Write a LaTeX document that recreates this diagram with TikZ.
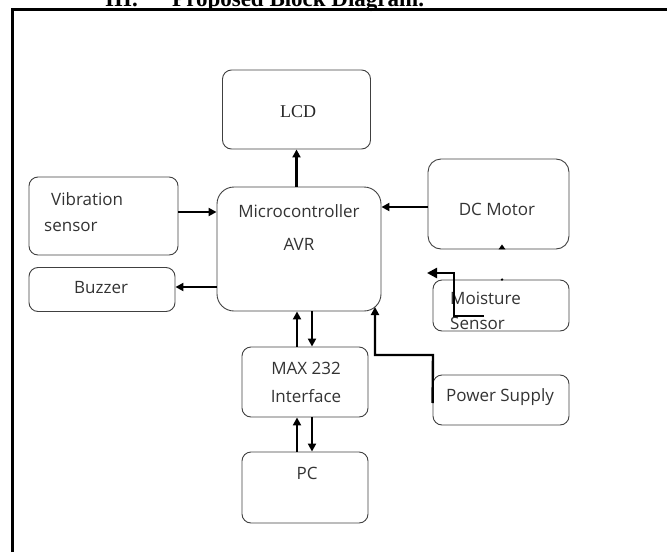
\documentclass[tikz,border=0pt]{standalone}
\usepackage{fontspec}
\setmainfont{Open Sans}
\newfontfamily\serifx{Liberation Serif}
\usetikzlibrary{arrows.meta}
\begin{document}
\begin{tikzpicture}[x=1pt,y=-1pt,
  blk/.style={draw=black!75,line width=0.9pt,rounded corners=9pt,inner sep=0pt},
  txt/.style={font=\fontsize{17}{20}\selectfont,text=black!80,inner sep=0pt,anchor=west},
  conn/.style={line width=2.4pt,-{Triangle[length=8pt,width=8pt]}},
  ttl/.style={font=\serifx\bfseries\fontsize{23}{26}\selectfont,anchor=base west,inner sep=0pt}]
\useasboundingbox (0,0) rectangle (667,552);
\clip (0,0) rectangle (667,552);
% title (cut off at the top)
\node[ttl] (t1) at (105,6) {III.};
\node[ttl] (t2) at (172,6) {Proposed Block Diagram.};
% frame
\draw[line width=3pt] (12.5,552) -- (12.5,9.5) -- (667,9.5);
% boxes
\node[blk,minimum width=148pt,minimum height=79pt] (lcd) at (296.5,109.5) {};
\node[blk,rounded corners=17pt,minimum width=164pt,minimum height=124pt] (mcu) at (299,249) {};
\node[blk,minimum width=149pt,minimum height=78pt] (vib) at (103.5,216) {};
\node[blk,minimum width=146pt,minimum height=44pt] (buz) at (102,289.5) {};
\node[blk,rounded corners=13pt,minimum width=141pt,minimum height=90pt] (dc) at (498.5,204) {};
\node[blk,minimum width=136pt,minimum height=51pt] (moist) at (501,305.5) {};
\node[blk,minimum width=126pt,minimum height=70pt] (max) at (305,382) {};
\node[blk,minimum width=136pt,minimum height=50pt] (pwr) at (501,400) {};
\node[blk,minimum width=126pt,minimum height=71pt] (pc) at (305,487.5) {};
% texts
\node[font=\serifx\fontsize{18}{20}\selectfont,inner sep=0pt,text=black!85] (lcdt) at (298,112) {LCD};
\node[txt,anchor=center] (mcut1) at (299,211) {Microcontroller};
\node[txt,anchor=center] (mcut2) at (299,244) {AVR};
\node[txt] (vibt1) at (51,199) {Vibration};
\node[txt] (vibt2) at (44,227) {sensor};
\node[txt] (buzt) at (74,288) {Buzzer};
\node[txt,anchor=center] (dct) at (497,209) {DC Motor};
\node[txt] (moistt1) at (450,298) {Moisture};
\node[txt] (moistt2) at (450,323) {Sensor};
\node[txt,anchor=center] (maxt1) at (306,368) {MAX 232};
\node[txt,anchor=center] (maxt2) at (306,396) {Interface};
\node[txt,anchor=center] (pwrt) at (500,397) {Power Supply};
\node[txt,anchor=center] (pct) at (307,473) {PC};
% connectors
\draw[conn] (mcu.north -| lcd.south) -- (lcd.south);
\draw[conn] (vib.east |- 0,212) -- (mcu.west |- 0,212);
\draw[conn] (mcu.west |- 0,287) -- (buz.east |- 0,287);
\draw[conn] (dc.west |- 0,207) -- (mcu.east |- 0,207);
\draw[conn] (max.north -| 297,0) -- (mcu.south -| 297,0);
\draw[conn] (mcu.south -| 312,0) -- (max.north -| 312,0);
\draw[conn] (pc.north -| 297,0) -- (max.south -| 297,0);
\draw[conn] (max.south -| 312,0) -- (pc.north -| 312,0);
\coordinate (mend) at (484,316);
\draw[conn,-{Triangle[length=10pt,width=10pt]}] (mend) -- (454,316) -- (454,273) -- (427,273);
\draw[conn] (pwr.west |- 0,403) -- (433,355) -- (375,355) -- (375,307);
% small marks between moisture sensor and DC motor
\fill (dc.south -| 502,0) ++(-3.5,0) -- ++(3.5,-5) -- ++(3.5,5) -- cycle;
\fill (moist.north -| 502,0) circle (1.3pt);
\end{tikzpicture}
\end{document}
